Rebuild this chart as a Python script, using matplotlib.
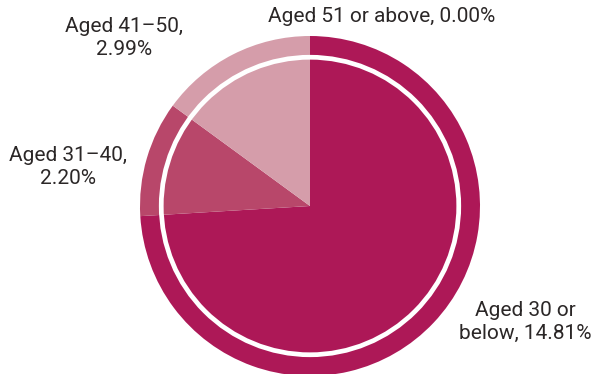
import matplotlib.pyplot as plt
from matplotlib.patches import Circle

plt.rcParams['font.family'] = ['Roboto', 'DejaVu Sans']

labels = ['Aged 30 or\nbelow, 14.81%', 'Aged 31\u201340,\n2.20%',
          'Aged 41\u201350,\n2.99%', 'Aged 51 or above, 0.00%']
values = [14.81, 2.20, 2.99, 0.00]
colors = ['#AD1857', '#B8476A', '#D59DAA', '#AD1857']

W, H = 600, 374
fig = plt.figure(figsize=(6, 3.74), dpi=100)

# pie axes: centre ~ (310, 206) px, radius ~ 170 px
cx, cy, r = 310, 206, 170
ax = fig.add_axes([(cx - r) / W, (H - cy - r) / H, 2 * r / W, 2 * r / H])
ax.pie(values, colors=colors, startangle=90, counterclock=False,
       radius=1.0, wedgeprops=dict(linewidth=0))
ax.add_patch(Circle((0, 0), 0.875, fill=False, edgecolor='white', linewidth=3.4))
ax.set_xlim(-1, 1)
ax.set_ylim(-1, 1)
ax.set_aspect('equal')
ax.axis('off')

# label positions in pixels (x, y from top)
label_pos = [(525, 322), (68, 167), (124, 38), (382, 16)]
for text, (px, py) in zip(labels, label_pos):
    fig.text(px / W, 1 - py / H, text, ha='center', va='center',
             fontsize=15, color='#2b2727', linespacing=1.3)

fig.savefig('out.png', dpi=100)
